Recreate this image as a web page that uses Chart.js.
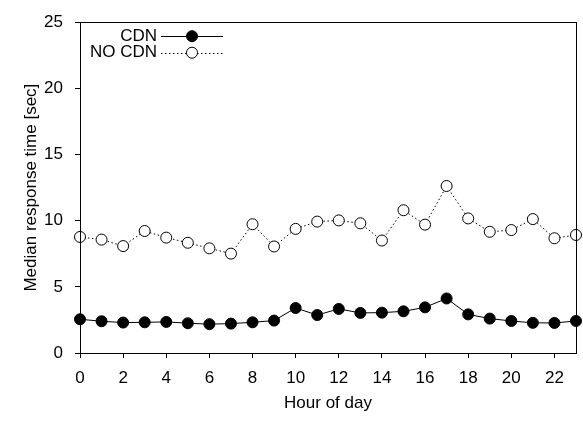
<!DOCTYPE html>
<html>
<head>
<meta charset="utf-8">
<script src="https://cdn.jsdelivr.net/npm/chart.js@4/dist/chart.umd.min.js"></script>
<style>
  html, body { margin: 0; padding: 0; background: #fff; }
  #wrap { width: 583px; height: 421px; }
</style>
</head>
<body>
<div id="wrap"><canvas id="chart" width="583" height="421"></canvas></div>
<script>
// Hours of the day (x values)
var hours = [0, 1, 2, 3, 4, 5, 6, 7, 8, 9, 10, 11, 12, 13, 14, 15, 16, 17, 18, 19, 20, 21, 22, 23];

// Median response time in seconds
var cdnTimes = [2.55, 2.4, 2.3, 2.32, 2.35, 2.25, 2.18, 2.22, 2.32, 2.45, 3.4, 2.87,
                3.33, 3.03, 3.05, 3.15, 3.45, 4.12, 2.92, 2.6, 2.42, 2.28, 2.27, 2.42];
var noCdnTimes = [8.77, 8.57, 8.08, 9.22, 8.72, 8.33, 7.91, 7.51, 9.73, 8.05, 9.38, 9.93,
                  10.02, 9.8, 8.5, 10.79, 9.7, 12.62, 10.17, 9.16, 9.29, 10.12, 8.67, 8.92];

var seriesNames = ['CDN', 'NO CDN'];

// Axis ticks
var xTickStep = 2;
var yTicks = [0, 5, 10, 15, 20, 25];

var fontFamily = "'Liberation Sans', Arial, Helvetica, sans-serif";

function toPoints(values) {
    return hours.map(function (h, i) { return { x: h, y: values[i] }; });
}

// Draws the frame around the plot area (top and right sides included)
var framePlugin = {
    id: 'frame',
    afterDatasetsDraw: function (chart) {
        var a = chart.chartArea;
        var ctx = chart.ctx;
        ctx.save();
        ctx.strokeStyle = '#000';
        ctx.lineWidth = 1;
        ctx.strokeRect(Math.round(a.left) + 0.5, Math.round(a.top) + 0.5,
                       Math.round(a.right - a.left), Math.round(a.bottom - a.top));
        ctx.restore();
    }
};

// Legend inside the plot: text on the left, line sample with marker on the right
var keyPlugin = {
    id: 'key',
    afterDraw: function (chart) {
        var ctx = chart.ctx;
        var textRight = chart.chartArea.left + 77;
        var lineStart = textRight + 4;
        var lineEnd = textRight + 66;
        var top = chart.chartArea.top + 14;
        var rowHeight = 16.5;
        ctx.save();
        chart.data.datasets.forEach(function (ds, i) {
            var y = top + i * rowHeight;
            ctx.fillStyle = '#000';
            ctx.font = '17px ' + fontFamily;
            ctx.textAlign = 'right';
            ctx.textBaseline = 'middle';
            ctx.fillText(ds.label, textRight, y);
            ctx.strokeStyle = ds.borderColor;
            ctx.lineWidth = ds.borderWidth;
            ctx.setLineDash(ds.borderDash || []);
            ctx.beginPath();
            ctx.moveTo(lineStart, Math.round(y) + 0.5);
            ctx.lineTo(lineEnd, Math.round(y) + 0.5);
            ctx.stroke();
            ctx.setLineDash([]);
            ctx.beginPath();
            ctx.arc((lineStart + lineEnd) / 2, y, ds.pointRadius, 0, Math.PI * 2);
            ctx.fillStyle = ds.pointBackgroundColor;
            ctx.fill();
            ctx.lineWidth = ds.pointBorderWidth;
            ctx.strokeStyle = ds.pointBorderColor;
            ctx.stroke();
        });
        ctx.restore();
    }
};

var ctx = document.getElementById('chart').getContext('2d');
var chart = new Chart(ctx, {
    type: 'line',
    data: {
        datasets: [{
            label: seriesNames[0],
            data: toPoints(cdnTimes),
            borderColor: '#000',
            borderWidth: 1,
            pointRadius: 5.5,
            pointBackgroundColor: '#000',
            pointBorderColor: '#000',
            pointBorderWidth: 1,
            tension: 0,
            clip: false
        }, {
            label: seriesNames[1],
            data: toPoints(noCdnTimes),
            borderColor: '#000',
            borderWidth: 1,
            borderDash: [1.5, 2.5],
            pointRadius: 5.5,
            pointBackgroundColor: '#fff',
            pointBorderColor: '#000',
            pointBorderWidth: 1,
            tension: 0,
            clip: false
        }]
    },
    options: {
        responsive: false,
        animation: false,
        layout: { padding: { top: 13, right: 7, left: 0, bottom: 0 } },
        plugins: {
            legend: { display: false },
            tooltip: { enabled: false }
        },
        scales: {
            x: {
                type: 'linear',
                min: hours[0],
                max: hours[hours.length - 1],
                afterFit: function (scale) { scale.height = 68; },
                grid: { drawOnChartArea: false, drawTicks: true, tickLength: 5, color: '#000' },
                border: { display: true, color: '#000', width: 1 },
                ticks: {
                    stepSize: xTickStep,
                    includeBounds: false,
                    padding: 10,
                    color: '#000',
                    maxRotation: 0,
                    font: { family: fontFamily, size: 17 }
                },
                title: {
                    display: true,
                    text: 'Hour of day',
                    color: '#000',
                    font: { family: fontFamily, size: 17 },
                    padding: { top: 0, bottom: 7 }
                }
            },
            y: {
                min: yTicks[0],
                max: yTicks[yTicks.length - 1],
                afterFit: function (scale) { scale.width = 80; },
                grid: { drawOnChartArea: false, drawTicks: true, tickLength: 5, color: '#000' },
                border: { display: true, color: '#000', width: 1 },
                ticks: {
                    stepSize: yTicks[1] - yTicks[0],
                    padding: 12,
                    color: '#000',
                    font: { family: fontFamily, size: 17 }
                },
                title: {
                    display: true,
                    text: 'Median response time [sec]',
                    color: '#000',
                    font: { family: fontFamily, size: 17 },
                    padding: { top: 21, bottom: 0 }
                }
            }
        }
    },
    plugins: [framePlugin, keyPlugin]
});
</script>
</body>
</html>
